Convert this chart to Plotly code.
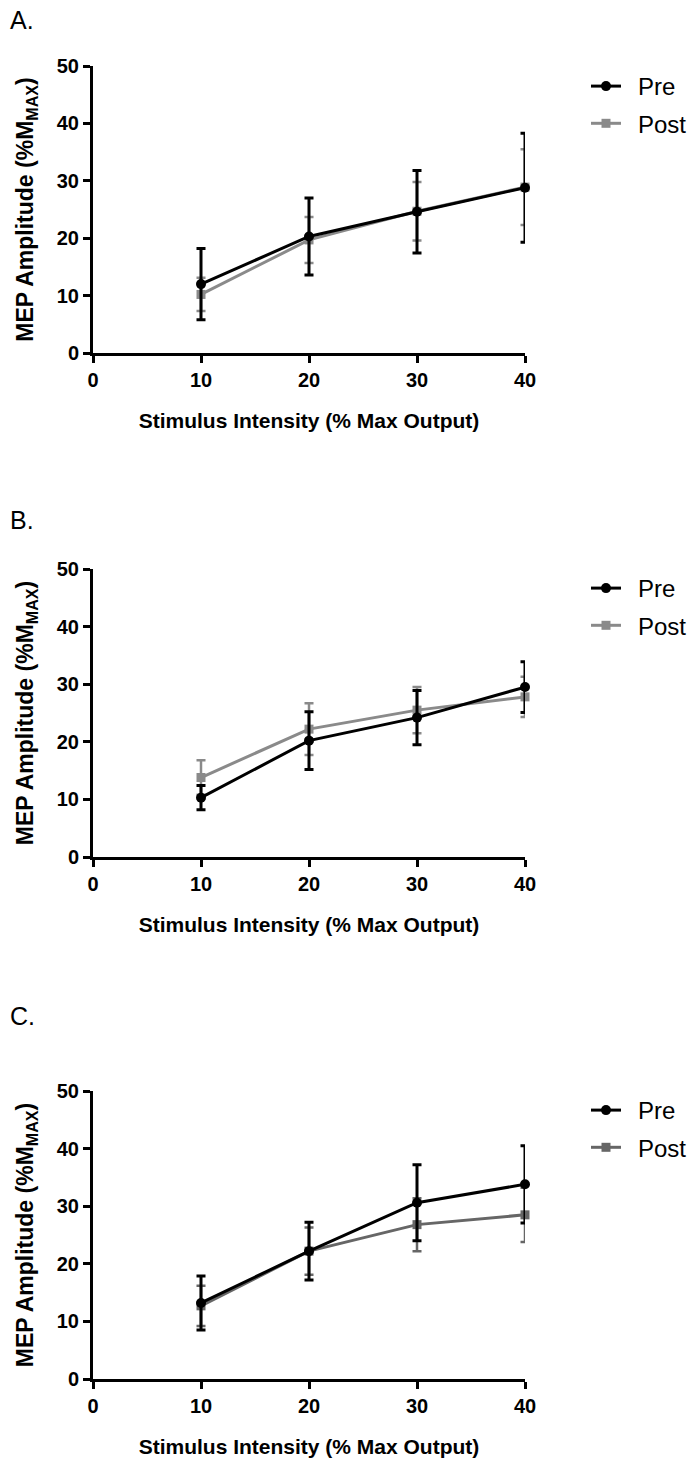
import plotly.graph_objects as go

# ---------------- data ----------------
intensity = [10, 20, 30, 40]
x_ticks = [0, 10, 20, 30, 40]
y_ticks = [0, 10, 20, 30, 40, 50]

pre_A = [12.0, 20.3, 24.6, 28.8]
pre_A_err = [6.2, 6.7, 7.2, 9.5]
post_A = [10.2, 19.7, 24.7, 28.9]
post_A_err = [2.9, 4.0, 5.1, 6.6]

pre_B = [10.3, 20.2, 24.2, 29.5]
pre_B_err = [2.1, 5.0, 4.7, 4.4]
post_B = [13.8, 22.2, 25.5, 27.8]
post_B_err = [3.0, 4.5, 4.0, 3.5]

pre_C = [13.2, 22.2, 30.6, 33.8]
pre_C_err = [4.7, 5.0, 6.6, 6.7]
post_C = [12.7, 22.2, 26.8, 28.5]
post_C_err = [3.5, 4.1, 4.6, 4.7]

series_names = ["Pre", "Post"]
panel_labels = ["A.", "B.", "C."]
x_title = "Stimulus Intensity (% Max Output)"
y_title = "MEP Amplitude (%M<sub>MAX</sub>)"

# ---------------- layout helpers ----------------
W, H = 689, 1466
FONT = "Liberation Sans, Arial, sans-serif"
PAD = "\u2002"  # visual gap between legend symbol and its label

def py(p):  # pixel from top -> paper y
    return 1 - p / H

def px(p):
    return p / W

x_dom = [px(93), px(525)]
panels = [
    dict(top=66, bottom=353, pre=pre_A, pre_err=pre_A_err, post=post_A, post_err=post_A_err,
         post_color="#8a8a8a", label_y=20, leg_y=64),
    dict(top=569, bottom=857, pre=pre_B, pre_err=pre_B_err, post=post_B, post_err=post_B_err,
         post_color="#8a8a8a", label_y=520, leg_y=566),
    dict(top=1091, bottom=1379, pre=pre_C, pre_err=pre_C_err, post=post_C, post_err=post_C_err,
         post_color="#666666", label_y=1016, leg_y=1088),
]

fig = go.Figure()
layout = dict(
    template="none",
    width=W, height=H,
    margin=dict(l=0, r=0, t=0, b=0, autoexpand=False),
    paper_bgcolor="white", plot_bgcolor="white",
    font=dict(family=FONT, color="black"),
    annotations=[], showlegend=True,
)

for i, p in enumerate(panels):
    n = "" if i == 0 else str(i + 1)
    xa, ya = "x" + n, "y" + n
    leg = "legend" + n
    fig.add_trace(go.Scatter(
        x=intensity, y=p["post"], name=PAD + series_names[1], mode="lines+markers",
        line=dict(color=p["post_color"], width=3),
        marker=dict(symbol="square", size=9, color=p["post_color"]),
        error_y=dict(type="data", array=p["post_err"], color=p["post_color"], thickness=2.5, width=4.5),
        xaxis=xa, yaxis=ya, legend=leg, legendrank=2, legendgroup="post" + n, cliponaxis=False,
    ))
    fig.add_trace(go.Scatter(
        x=intensity, y=p["pre"], name=PAD + series_names[0], mode="lines+markers",
        line=dict(color="black", width=3),
        marker=dict(symbol="circle", size=10, color="black"),
        error_y=dict(type="data", array=p["pre_err"], color="black", thickness=3, width=4.5),
        xaxis=xa, yaxis=ya, legend=leg, legendrank=1, legendgroup="pre" + n, cliponaxis=False,
    ))
    axis_common = dict(
        showgrid=False, zeroline=False, showline=True, linecolor="black", linewidth=3,
        ticks="outside", ticklen=7, tickwidth=3, tickcolor="black", automargin=False,
        tickfont=dict(family=FONT, size=20, weight="bold", color="black"),
    )
    layout["xaxis" + n] = dict(
        axis_common, domain=x_dom, range=[0, 40], tickvals=x_ticks,
        anchor=ya, fixedrange=True,
        title=dict(text=x_title, standoff=24, font=dict(family=FONT, size=21, weight="bold")),
    )
    layout["yaxis" + n] = dict(
        axis_common, domain=[py(p["bottom"]), py(p["top"])], range=[0, 50], tickvals=y_ticks,
        anchor=xa, fixedrange=True,
        title=dict(text=y_title, standoff=17, font=dict(family=FONT, size=23, weight="bold")),
    )
    layout[leg] = dict(
        x=px(586), y=py(p["leg_y"]), xanchor="left", yanchor="top",
        font=dict(family=FONT, size=24, color="black"),
        bgcolor="rgba(0,0,0,0)", itemwidth=30, tracegroupgap=3,
        traceorder="grouped",
    )
    layout["annotations"].append(dict(
        text=panel_labels[i], x=px(8), y=py(p["label_y"]), xref="paper", yref="paper",
        xanchor="left", yanchor="middle", showarrow=False,
        font=dict(family=FONT, size=25, color="black"),
    ))

fig.update_layout(**layout)
fig.write_html("out.html")
